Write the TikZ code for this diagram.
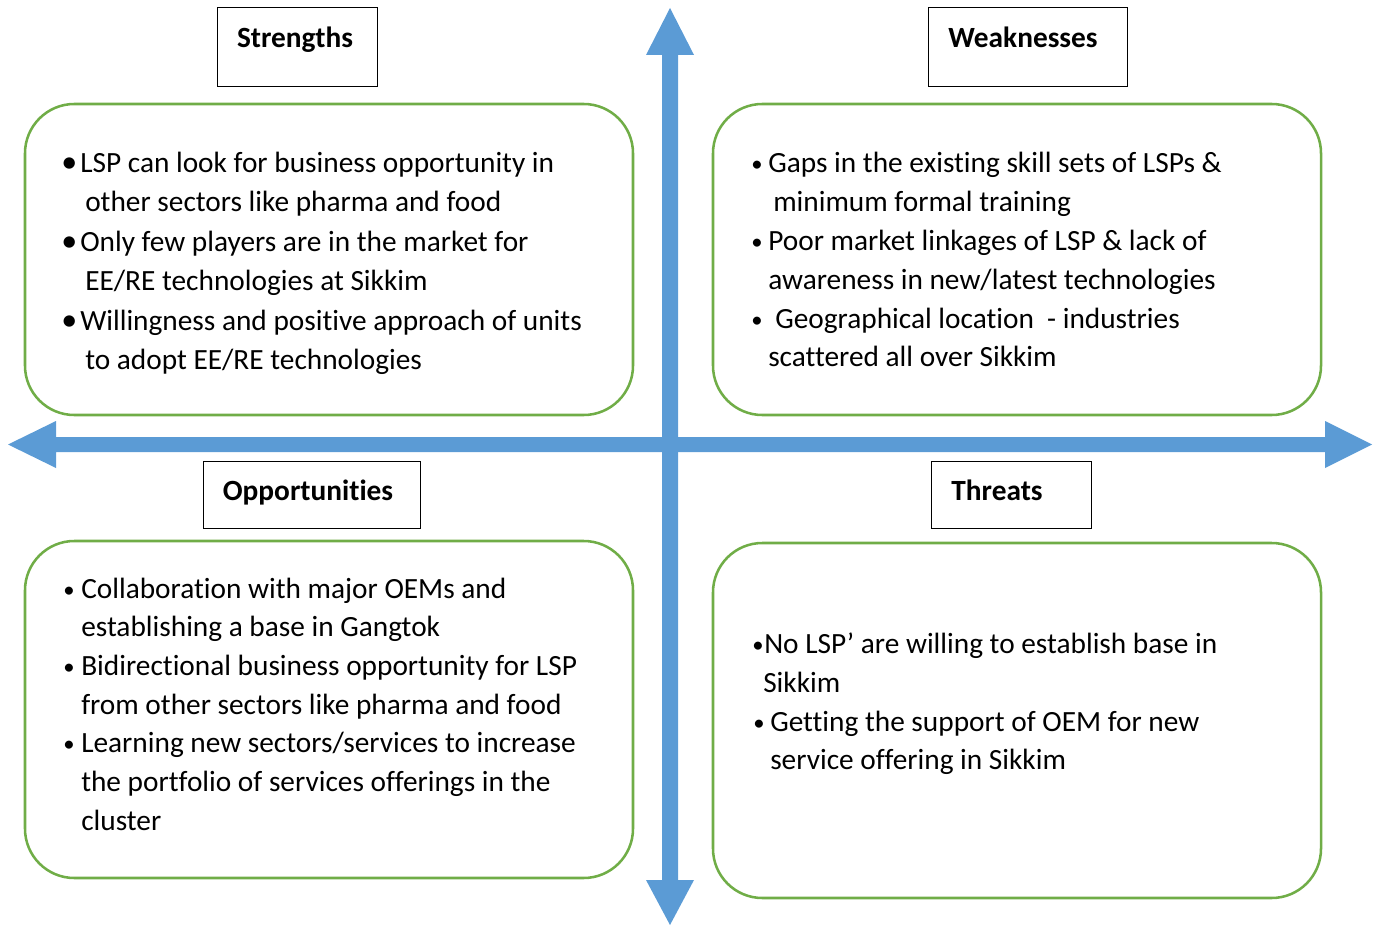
\documentclass[tikz,border=0pt]{standalone}
\usepackage{fontspec}
\setmainfont[Ligatures=NoCommon]{Carlito}
\definecolor{arrowblue}{HTML}{5B9BD5}
\definecolor{boxgreen}{HTML}{70AD47}
\begin{document}
\begin{tikzpicture}[x=0.75pt,y=-0.75pt,
  arr/.style={fill=arrowblue,draw=none},
  quad/.style={draw=boxgreen,line width=1.9pt,rounded corners=37pt},
  ttl/.style={draw=black,line width=0.75pt},
  txt/.style={anchor=base west,inner sep=0pt,yshift=-0.9pt,font=\fontsize{22}{26}\selectfont},
  bul/.style={anchor=base west,inner sep=0pt,yshift=-0.9pt,font=\fontsize{17}{20}\selectfont},
  bigbul/.style={anchor=base west,inner sep=0pt,yshift=-0.9pt,font=\fontsize{24}{26}\selectfont},
  hd/.style={anchor=base,inner sep=0pt,yshift=-0.9pt,font=\bfseries\fontsize{22}{26}\selectfont}]
\useasboundingbox (0,0) rectangle (1381,927);
% axes
\fill[arr] (662,55)--(646,55)--(670,8)--(694,55)--(678,55)--(678,880)--(694,880)--(670,925)--(646,880)--(662,880)--cycle;
\fill[arr] (56,437)--(56,421)--(8,444.5)--(56,468)--(56,452)--(1325,452)--(1325,468)--(1372,444.5)--(1325,421)--(1325,437)--cycle;
% quadrant boxes
\draw[quad] (25,104) rectangle (633,415);
\draw[quad] (713,104) rectangle (1321,415);
\draw[quad] (25,541) rectangle (633,878);
\draw[quad] (713,543) rectangle (1321,898);
% title boxes
\draw[ttl] (217,8) rectangle (377,87);
\draw[ttl] (928,8) rectangle (1127,87);
\draw[ttl] (203,461) rectangle (420,528);
\draw[ttl] (931,461) rectangle (1091,528);
\node[hd] (tS) at (295,46) {Strengths};
\node[hd] (tW) at (1023,46) {Weaknesses};
\node[hd] (tO) at (308,499) {Opportunities};
\node[hd] (tT) at (997,499) {Threats};
% Strengths
\node[bigbul] (sb1) at (61,171) {\textbullet};
\node[bigbul] (sb2) at (61,250) {\textbullet};
\node[bigbul] (sb3) at (61,329) {\textbullet};
\node[txt] (s1) at (80,171) {LSP can look for business opportunity in};
\node[txt] (s2) at (85,210) {other sectors like pharma and food};
\node[txt] (s3) at (80,250) {Only few players are in the market for};
\node[txt] (s4) at (85,289) {EE/RE technologies at Sikkim};
\node[txt] (s5) at (80,329) {Willingness and positive approach of units};
\node[txt] (s6) at (85,368) {to adopt EE/RE technologies};
% Weaknesses
\node[bul] (wb1) at (751,170) {\textbullet};
\node[bul] (wb2) at (751,248) {\textbullet};
\node[bul] (wb3) at (751,326) {\textbullet};
\node[txt] (w1) at (768,171) {Gaps in the existing skill sets of LSPs \&};
\node[txt] (w2) at (773,210) {minimum formal training};
\node[txt] (w3) at (768,249) {Poor market linkages of LSP \& lack of};
\node[txt] (w4) at (768,288) {awareness in new/latest technologies};
\node[txt] (w5) at (775,327) {Geographical location\ \ - industries};
\node[txt] (w6) at (768,365) {scattered all over Sikkim};
% Opportunities
\node[bul] (ob1) at (63,596) {\textbullet};
\node[bul] (ob2) at (63,673) {\textbullet};
\node[bul] (ob3) at (63,750) {\textbullet};
\node[txt] (o1) at (81,597) {Collaboration with major OEMs and};
\node[txt] (o2) at (81,635) {establishing a base in Gangtok};
\node[txt] (o3) at (81,674) {Bidirectional business opportunity for LSP};
\node[txt] (o4) at (81,713) {from other sectors like pharma and food};
\node[txt] (o5) at (81,751) {Learning new sectors/services to increase};
\node[txt] (o6) at (81,790) {the portfolio of services offerings in the};
\node[txt] (o7) at (81,829) {cluster};
% Threats
\node[bul] (tb1) at (752,651) {\textbullet};
\node[bul] (tb2) at (753,729) {\textbullet};
\node[txt] (t1) at (764,652) {No LSP’ are willing to establish base in};
\node[txt] (t2) at (763,691) {Sikkim};
\node[txt] (t3) at (770,730) {Getting the support of OEM for new};
\node[txt] (t4) at (770,768) {service offering in Sikkim};
\end{tikzpicture}
\end{document}
